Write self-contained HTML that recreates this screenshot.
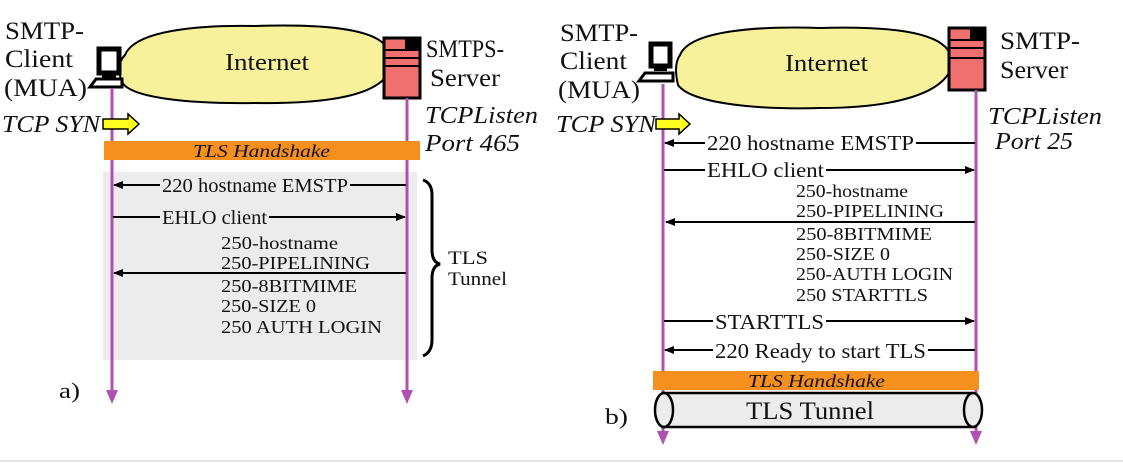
<!DOCTYPE html>
<html><head><meta charset="utf-8"><style>
html,body{margin:0;padding:0;background:#fff;}
svg{display:block;}
</style></head><body>
<svg width="1123" height="476" viewBox="0 0 1123 476" xmlns="http://www.w3.org/2000/svg" font-family="Liberation Serif, Times New Roman, serif" fill="#111">
<defs>
<marker id="ah" markerWidth="10" markerHeight="8" refX="9" refY="4" orient="auto" markerUnits="userSpaceOnUse"><path d="M0,0 L10,4 L0,8 Z" fill="#000"/></marker>
</defs>
<line x1="0" y1="461" x2="1123" y2="461" stroke="#e6e6e6" stroke-width="2"/>

<!-- ===== Panel a ===== -->
<rect x="103" y="172" width="314" height="188" fill="#ececec"/>
<path d="M125,55 C135,30 200,25 255,26 C320,24 370,28 385,45 L390,70 C380,95 330,104 255,103 C190,104 130,98 122,82 C118,72 118,62 125,55Z" fill="#f7f19c" stroke="#000" stroke-width="2"/>
<text x="225" y="70" font-size="24" textLength="84" lengthAdjust="spacingAndGlyphs">Internet</text>
<rect x="99" y="49" width="20" height="24" fill="#fff" stroke="#000" stroke-width="5"/>
<rect x="102" y="75" width="14" height="3" fill="#000"/>
<path d="M90,87 L96,79 L122,79 L122,87Z" fill="#fff" stroke="#000" stroke-width="3"/>
<rect x="384" y="38" width="36" height="60" fill="#f07070" stroke="#000" stroke-width="3"/>
<rect x="405" y="39" width="14" height="10" fill="#000"/>
<line x1="385" y1="50" x2="419" y2="50" stroke="#000" stroke-width="2"/>
<line x1="385" y1="58" x2="419" y2="58" stroke="#000" stroke-width="2"/>
<line x1="385" y1="66" x2="419" y2="66" stroke="#000" stroke-width="2"/>
<line x1="112" y1="88" x2="112" y2="392" stroke="#b050b0" stroke-width="3"/>
<path d="M106,390 L118,390 L112,404Z" fill="#b050b0"/>
<line x1="407" y1="98" x2="407" y2="392" stroke="#b050b0" stroke-width="3"/>
<path d="M401,390 L413,390 L407,404Z" fill="#b050b0"/>
<text x="5" y="39" font-size="25" textLength="79" lengthAdjust="spacingAndGlyphs">SMTP-</text>
<text x="5" y="67" font-size="25" textLength="68" lengthAdjust="spacingAndGlyphs">Client</text>
<text x="4" y="96" font-size="25" textLength="83" lengthAdjust="spacingAndGlyphs">(MUA)</text>
<text x="426" y="57" font-size="25" textLength="78" lengthAdjust="spacingAndGlyphs">SMTPS-</text>
<text x="430" y="86" font-size="25" textLength="70" lengthAdjust="spacingAndGlyphs">Server</text>
<text x="425" y="123" font-size="24" font-style="italic" textLength="113" lengthAdjust="spacingAndGlyphs">TCPListen</text>
<text x="425" y="151" font-size="24" font-style="italic" textLength="95" lengthAdjust="spacingAndGlyphs">Port 465</text>
<text x="2" y="132" font-size="24" font-style="italic" textLength="98" lengthAdjust="spacingAndGlyphs">TCP SYN</text>
<path d="M103,119 L128,119 L128,114 L139,124 L128,134 L128,129 L103,129Z" fill="#ffff20" stroke="#000" stroke-width="1.5"/>
<rect x="104" y="141" width="316" height="19" fill="#f5901e"/>
<text x="193" y="157" font-size="18" font-style="italic" textLength="137" lengthAdjust="spacingAndGlyphs">TLS Handshake</text>
<line x1="406" y1="185" x2="114" y2="185" stroke="#000" stroke-width="2" marker-end="url(#ah)"/>
<rect x="160" y="175" width="190" height="18" fill="#ececec"/>
<text x="162" y="192" font-size="20" textLength="186" lengthAdjust="spacingAndGlyphs">220 hostname EMSTP</text>
<line x1="113" y1="217" x2="405" y2="217" stroke="#000" stroke-width="2" marker-end="url(#ah)"/>
<rect x="160" y="207" width="109" height="18" fill="#ececec"/>
<text x="162" y="224" font-size="20" textLength="105" lengthAdjust="spacingAndGlyphs">EHLO client</text>
<text x="221" y="249" font-size="18" textLength="117" lengthAdjust="spacingAndGlyphs">250-hostname</text>
<text x="221" y="269" font-size="18" textLength="149" lengthAdjust="spacingAndGlyphs">250-PIPELINING</text>
<line x1="406" y1="273" x2="114" y2="273" stroke="#000" stroke-width="2" marker-end="url(#ah)"/>
<text x="221" y="292" font-size="18" textLength="136" lengthAdjust="spacingAndGlyphs">250-8BITMIME</text>
<text x="221" y="312" font-size="18" textLength="95" lengthAdjust="spacingAndGlyphs">250-SIZE 0</text>
<text x="221" y="333" font-size="18" textLength="161" lengthAdjust="spacingAndGlyphs">250 AUTH LOGIN</text>
<path d="M423,180 Q432,183 432,195 L432,250 Q432,262 440,264 Q432,266 432,278 L432,340 Q432,352 423,356" fill="none" stroke="#000" stroke-width="3"/>
<text x="448" y="264" font-size="19" textLength="40" lengthAdjust="spacingAndGlyphs">TLS</text>
<text x="448" y="285" font-size="19" textLength="59" lengthAdjust="spacingAndGlyphs">Tunnel</text>
<text x="59" y="398" font-size="22" textLength="21" lengthAdjust="spacingAndGlyphs">a)</text>

<!-- ===== Panel b ===== -->
<path d="M680,55 C690,30 760,26 820,28 C890,26 935,32 948,50 L952,65 C945,95 890,108 820,108 C750,110 690,102 678,85 C675,72 675,62 680,55Z" fill="#f7f19c" stroke="#000" stroke-width="2"/>
<text x="785" y="71" font-size="24" textLength="83" lengthAdjust="spacingAndGlyphs">Internet</text>
<rect x="651" y="44" width="19" height="22" fill="#fff" stroke="#000" stroke-width="5"/>
<rect x="654" y="68" width="13" height="3" fill="#000"/>
<path d="M639,81 L645,73 L673,73 L673,81Z" fill="#fff" stroke="#000" stroke-width="3"/>
<rect x="949" y="28" width="36" height="62" fill="#f07070" stroke="#000" stroke-width="3"/>
<rect x="970" y="29" width="14" height="11" fill="#000"/>
<line x1="950" y1="40" x2="984" y2="40" stroke="#000" stroke-width="2"/>
<line x1="950" y1="48" x2="984" y2="48" stroke="#000" stroke-width="2"/>
<line x1="950" y1="58" x2="984" y2="58" stroke="#000" stroke-width="2"/>
<line x1="663" y1="84" x2="663" y2="433" stroke="#b050b0" stroke-width="3"/>
<path d="M657,431 L669,431 L663,445Z" fill="#b050b0"/>
<line x1="976" y1="90" x2="976" y2="433" stroke="#b050b0" stroke-width="3"/>
<path d="M970,431 L982,431 L976,445Z" fill="#b050b0"/>
<text x="560" y="41" font-size="25" textLength="78" lengthAdjust="spacingAndGlyphs">SMTP-</text>
<text x="560" y="69" font-size="25" textLength="67" lengthAdjust="spacingAndGlyphs">Client</text>
<text x="558" y="98" font-size="25" textLength="82" lengthAdjust="spacingAndGlyphs">(MUA)</text>
<text x="1000" y="49" font-size="25" textLength="80" lengthAdjust="spacingAndGlyphs">SMTP-</text>
<text x="1000" y="78" font-size="25" textLength="68" lengthAdjust="spacingAndGlyphs">Server</text>
<text x="988" y="124" font-size="24" font-style="italic" textLength="114" lengthAdjust="spacingAndGlyphs">TCPListen</text>
<text x="995" y="149" font-size="24" font-style="italic" textLength="78" lengthAdjust="spacingAndGlyphs">Port 25</text>
<text x="556" y="132" font-size="24" font-style="italic" textLength="100" lengthAdjust="spacingAndGlyphs">TCP SYN</text>
<path d="M656,119 L679,119 L679,114 L690,124 L679,134 L679,129 L656,129Z" fill="#ffff20" stroke="#000" stroke-width="1.5"/>
<line x1="975" y1="143" x2="665" y2="143" stroke="#000" stroke-width="2" marker-end="url(#ah)"/>
<rect x="705" y="132" width="211" height="20" fill="#fff"/>
<text x="707" y="150" font-size="21" textLength="207" lengthAdjust="spacingAndGlyphs">220 hostname EMSTP</text>
<line x1="664" y1="170" x2="974" y2="170" stroke="#000" stroke-width="2" marker-end="url(#ah)"/>
<rect x="705" y="160" width="121" height="20" fill="#fff"/>
<text x="707" y="177" font-size="21" textLength="117" lengthAdjust="spacingAndGlyphs">EHLO client</text>
<text x="796" y="197" font-size="18" textLength="112" lengthAdjust="spacingAndGlyphs">250-hostname</text>
<text x="796" y="217" font-size="18" textLength="148" lengthAdjust="spacingAndGlyphs">250-PIPELINING</text>
<line x1="975" y1="222" x2="666" y2="222" stroke="#000" stroke-width="2" marker-end="url(#ah)"/>
<text x="796" y="240" font-size="18" textLength="136" lengthAdjust="spacingAndGlyphs">250-8BITMIME</text>
<text x="796" y="260" font-size="18" textLength="94" lengthAdjust="spacingAndGlyphs">250-SIZE 0</text>
<text x="796" y="280" font-size="18" textLength="157" lengthAdjust="spacingAndGlyphs">250-AUTH LOGIN</text>
<text x="796" y="301" font-size="18" textLength="132" lengthAdjust="spacingAndGlyphs">250 STARTTLS</text>
<line x1="664" y1="321" x2="974" y2="321" stroke="#000" stroke-width="2" marker-end="url(#ah)"/>
<rect x="713" y="311" width="113" height="20" fill="#fff"/>
<text x="715" y="329" font-size="21" textLength="109" lengthAdjust="spacingAndGlyphs">STARTTLS</text>
<line x1="975" y1="350" x2="665" y2="350" stroke="#000" stroke-width="2" marker-end="url(#ah)"/>
<rect x="713" y="340" width="215" height="20" fill="#fff"/>
<text x="715" y="358" font-size="21" textLength="211" lengthAdjust="spacingAndGlyphs">220 Ready to start TLS</text>
<rect x="653" y="371" width="326" height="19" fill="#f5901e"/>
<text x="748" y="387" font-size="18" font-style="italic" textLength="137" lengthAdjust="spacingAndGlyphs">TLS Handshake</text>
<rect x="663" y="393" width="310" height="34" fill="#ececec" stroke="#000" stroke-width="2.5"/>
<ellipse cx="664" cy="410" rx="9" ry="17" fill="#ececec" stroke="#000" stroke-width="2.5"/>
<ellipse cx="973" cy="410" rx="9" ry="17" fill="#ececec" stroke="#000" stroke-width="2.5"/>
<text x="746" y="419" font-size="25" textLength="128" lengthAdjust="spacingAndGlyphs">TLS Tunnel</text>
<text x="605" y="424" font-size="22" textLength="23" lengthAdjust="spacingAndGlyphs">b)</text>
</svg>
</body></html>
